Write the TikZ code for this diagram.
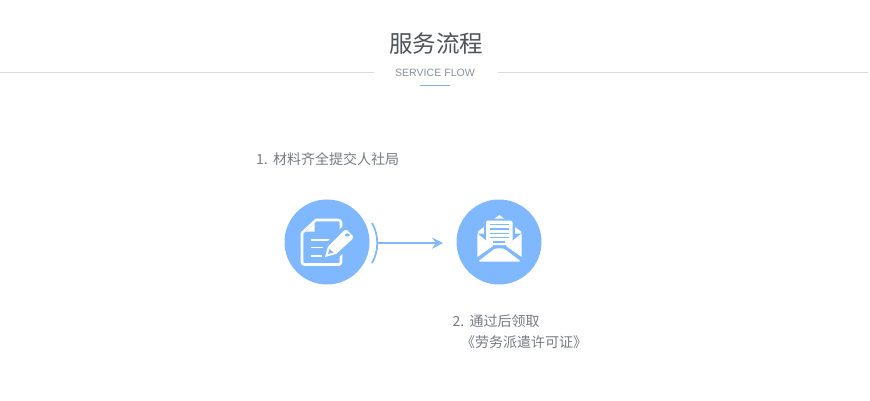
\documentclass[tikz,border=0pt]{standalone}
\usepackage{fontspec}
\setmainfont{Liberation Sans}
\newfontfamily\cjk{Noto Sans CJK SC}
\usetikzlibrary{positioning, arrows.meta}

\definecolor{flowblue}{HTML}{80B8FF}
\definecolor{titlegray}{HTML}{4F545C}
\definecolor{subgray}{HTML}{8B909B}
\definecolor{labelgray}{HTML}{777B83}
\definecolor{rulegray}{HTML}{DADBDD}

\tikzset{
    stepcircle/.style={circle, fill=flowblue, minimum size=85pt, inner sep=0pt},
    steplabel/.style={text=labelgray, font=\cjk\fontsize{14pt}{21pt}\selectfont, inner sep=0pt, anchor=west},
    flowline/.style={draw=flowblue, line width=1.7pt},
    iconline/.style={draw=white, line width=2.6pt, line join=round, line cap=round}
}

\begin{document}
\begin{tikzpicture}[x=1pt, y=-1pt]
        \useasboundingbox[fill=white] (0,0) rectangle (870,400);
        % heading
        \node[text=titlegray, font=\cjk\fontsize{23.5pt}{28pt}\selectfont, inner sep=0pt] (title) at (436,44) {服务流程};
        \node[text=subgray, font=\fontsize{10.6pt}{13pt}\selectfont, inner sep=0pt] (subtitle) at (435,72.5) {SERVICE FLOW};
        \coordinate (ruleA) at (0,72.5);
        \coordinate (ruleB) at (374,72.5);
        \coordinate (ruleC) at (498,72.5);
        \coordinate (ruleD) at (868,72.5);
        \coordinate (markA) at (420,85.5);
        \coordinate (markB) at (450,85.5);
        \draw[rulegray] (ruleA) -- (ruleB);
        \draw[rulegray] (ruleC) -- (ruleD);
        \draw[draw=flowblue!85!gray] (markA) -- (markB);
        % steps
        \node[steplabel] (label_1) at (256,159.5) {1.\kern1pt{} 材料齐全提交人社局};
        \node[stepcircle] (step_1) at (327,242) {};
        \node[stepcircle] (step_2) at (499,242) {};
        \node[steplabel] (label_2) at (452.5,321) {2.\kern1pt{} 通过后领取};
        \node[steplabel] (label_3) at (461,342) {《劳务派遣许可证》};
        % connector
        \coordinate (arrow_start) at (378,243.1);
        \coordinate (arrow_end) at (443,243.1);
        \draw[flowline, -{Stealth[length=11pt, width=11pt, inset=4pt]}] (arrow_start) -- (arrow_end);
        \draw[flowline] (372,223) .. controls (379,235) and (379,251) .. (372,263);
        % document icon
        \draw[iconline] (341,231) -- (341,223) .. controls (341,221) and (340,220) .. (338,220) -- (316,220) -- (302,233) -- (302,262)
            .. controls (302,263.5) and (303,264.5) .. (304,264.5) -- (339,264.5) .. controls (340,264.5) and (341,263.5) .. (341,262) -- (341,249);
        \fill[white] (306,231.5) -- (314.5,231.5) -- (314.5,223.5) -- cycle;
        \foreach \ya/\xb in {240/333, 247.5/323, 256/321.5} {
            \draw[draw=white, line width=1.8pt] (311,\ya) -- (\xb,\ya);
        }
        % pencil
        \fill[flowblue] (321,260) -- (325,244) -- (342,227) -- (348,226) -- (356,234) -- (356,240) -- (339,257) -- cycle;
        \fill[white] (325,257) -- (328,246.5) -- (344,230.5) -- (347,230) -- (353,236) -- (352.5,239) -- (336,254) -- cycle;
        \fill[flowblue] (347.3,235) ellipse (2.5pt and 1.6pt);
        \fill[flowblue] (328,254) -- (329.5,249) -- (333.5,252.5) -- cycle;
        % envelope icon
        \fill[white] (499.3,215) -- (478,231.5) -- (478,233.5) -- (521,233.5) -- (521,231.5) -- cycle;
        \fill[flowblue, rounded corners=2pt] (484,218.5) rectangle (515,247);
        \fill[white, rounded corners=1.5pt] (486,220.7) rectangle (512.7,245);
        \foreach \ya in {224.3,229,233.3,237.7} {
            \draw[draw=flowblue, line width=1.3pt] (490,\ya) -- (509,\ya);
        }
        \draw[draw=flowblue, line width=1.3pt] (493,242) -- (505,242);
        \fill[white] (477.3,233.5) -- (493,246) -- (477.3,257) -- cycle;
        \fill[white] (521.7,233.5) -- (506,246) -- (521.7,257) -- cycle;
        \fill[white, rounded corners=1.5pt] (478,261.5) -- (493,250) .. controls (496,248) and (503,248) .. (506,250) -- (521,261.5) -- cycle;
\end{tikzpicture}
\end{document}
